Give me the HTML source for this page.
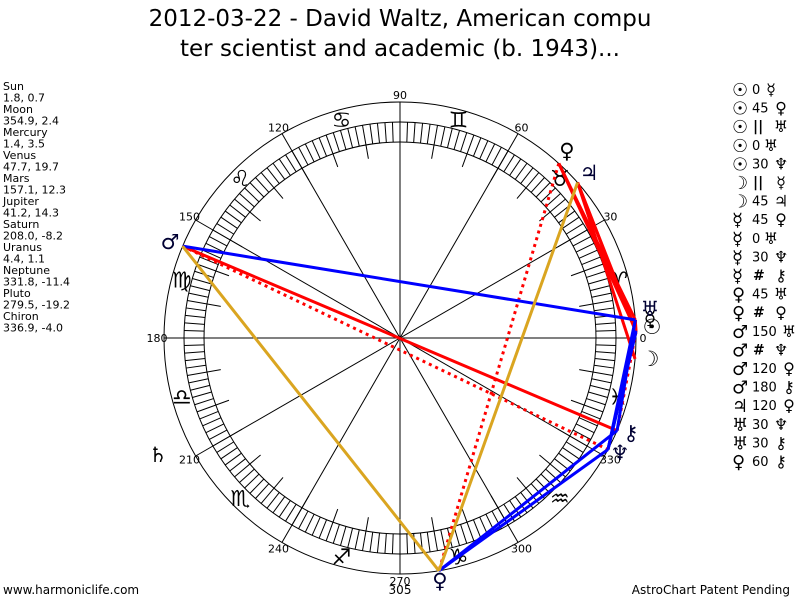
<!DOCTYPE html>
<html><head><meta charset="utf-8"><style>
html,body{margin:0;padding:0;background:#fff;}
body{width:800px;height:600px;overflow:hidden;position:relative;font-family:"DejaVu Sans","Liberation Sans",sans-serif;}
</style></head><body>
<svg id="s" width="800" height="600" xmlns="http://www.w3.org/2000/svg" style="position:absolute;left:0;top:0">
<text x="400" y="26" font-size="23" text-anchor="middle" font-family="DejaVu Sans, sans-serif">2012-03-22 - David Waltz, American compu</text>
<text x="400" y="56" font-size="23" text-anchor="middle" font-family="DejaVu Sans, sans-serif">ter scientist and academic (b. 1943)...</text>
<text x="3" y="594" font-size="12">www.harmoniclife.com</text>
<text x="790" y="594" font-size="12" text-anchor="end">AstroChart Patent Pending</text>
<text x="400" y="594" font-size="12" text-anchor="middle">305</text>
</svg>
<script>
var s=document.getElementById('s'),NS='http://www.w3.org/2000/svg',cx=400,cy=338,R=236;
function el(t,a,txt){var e=document.createElementNS(NS,t);for(var k in a)e.setAttribute(k,a[k]);if(txt!=null)e.textContent=txt;s.appendChild(e);return e;}
function P(a,r){var t=a*Math.PI/180;return [cx+r*Math.cos(t),cy-r*Math.sin(t)];}
var L=["Sun","1.8, 0.7","Moon","354.9, 2.4","Mercury","1.4, 3.5","Venus","47.7, 19.7","Mars","157.1, 12.3","Jupiter","41.2, 14.3","Saturn","208.0, -8.2","Uranus","4.4, 1.1","Neptune","331.8, -11.4","Pluto","279.5, -19.2","Chiron","336.9, -4.0"];
L.forEach(function(t,i){el('text',{x:3,y:90+i*11.5,'font-size':11},t);});
el('circle',{cx:cx,cy:cy,r:R,fill:'none',stroke:'#000','stroke-width':1});
el('circle',{cx:cx,cy:cy,r:216,fill:'none',stroke:'#000','stroke-width':1});
el('circle',{cx:cx,cy:cy,r:196,fill:'none',stroke:'#000','stroke-width':1});
for(var a=0;a<360;a+=2){var r2=(a%10==0)?182:196;var p=P(a,216),q=P(a,r2);el('line',{x1:p[0],y1:p[1],x2:q[0],y2:q[1],stroke:'#000','stroke-width':1});}
for(var a=0;a<180;a+=30){var p=P(a,R),q=P(a+180,R);el('line',{x1:p[0],y1:p[1],x2:q[0],y2:q[1],stroke:'#000','stroke-width':1});}
for(var a=0;a<360;a+=30){var p=P(a,243);el('text',{x:p[0],y:p[1]+4,'font-size':11,'text-anchor':'middle'},String(a));}
var signs="♈♉♊♋♌♍♎♏♐♑♒♓";
for(var i=0;i<12;i++){var p=P(15+30*i,226);el('text',{x:p[0],y:p[1]+8,'font-size':22,'text-anchor':'middle',fill:'#000'},signs[i]);}
var pl={su:1.8,mo:354.9,me:1.4,ve:47.7,ma:157.1,ju:41.2,sa:208,ur:4.4,ne:331.8,pl:279.5,ch:336.9};
var gl={su:'☉',mo:'☽',me:'☿',ve:'♀',ma:'♂',ju:'♃',sa:'♄',ur:'♅',ne:'♆',pl:'♀',ch:'⚷'};
function ln(a,b,c,d){var p=P(pl[a],R),q=P(pl[b],R);var at={x1:p[0],y1:p[1],x2:q[0],y2:q[1],stroke:c,'stroke-width':3};if(d)at['stroke-dasharray']='3,4';el('line',at);}
var RED='#f00',BL='#00f',GD='#daa520';
ln('su','ve',RED);ln('su','me',RED);ln('su','ur',RED);ln('me','ur',RED);ln('ma','ch',RED);
ln('me','ju',RED);ln('su','ju',RED);ln('ve','ur',RED);ln('mo','ju',RED);
ln('ma','ne',RED,1);ln('ve','pl',RED,1);ln('me','ch',RED,1);
ln('ma','ur',BL);ln('ur','ne',BL);ln('ur','ch',BL);ln('pl','ch',BL);ln('pl','ne',BL);ln('su','ne',BL);ln('me','ne',BL);
ln('ma','pl',GD);ln('ju','pl',GD);
var gp={su:[652,334],me:[650,326],ur:[650,316],mo:[650,366],ve:[567,158],ju:[589,180],ma:[170,249],sa:[158,462],ne:[620,460],pl:[440,588],ch:[631,440]};
for(var k in gp){el('text',{x:gp[k][0],y:gp[k][1],'font-size':21,'text-anchor':'middle',fill:(k=='ju'||k=='ur'||k=='ne'||k=='ch'||k=='pl'||k=='ma'?'#003':'#000')},gl[k]);}
var asp=[['su','0','me'],['su','45','ve'],['su','‖','ur'],['su','0','ur'],['su','30','ne'],['mo','‖','me'],['mo','45','ju'],['me','45','ve'],['me','0','ur'],['me','30','ne'],['me','#','ch'],['ve','45','ur'],['ve','#','pl'],['ma','150','ur'],['ma','#','ne'],['ma','120','pl'],['ma','180','ch'],['ju','120','pl'],['ur','30','ne'],['ur','30','ch'],['pl','60','ch']];
asp.forEach(function(r,i){var y=94+i*18.6;el('text',{x:732,y:y+2,'font-size':18,'text-anchor':'start'},gl[r[0]]);
var m=r[1],tx;
if(m=='‖'||m=='#'){el('text',{x:753,y:y,'font-size':14,'font-weight':'bold'},m=='‖'?'||':'#');tx=781;}
else{el('text',{x:752,y:y,'font-size':13},m);tx=m.length==3?789:m.length==2?781:771;}
el('text',{x:tx,y:y+1,'font-size':16,'text-anchor':'middle'},gl[r[2]]);});
</script>
</body></html>
